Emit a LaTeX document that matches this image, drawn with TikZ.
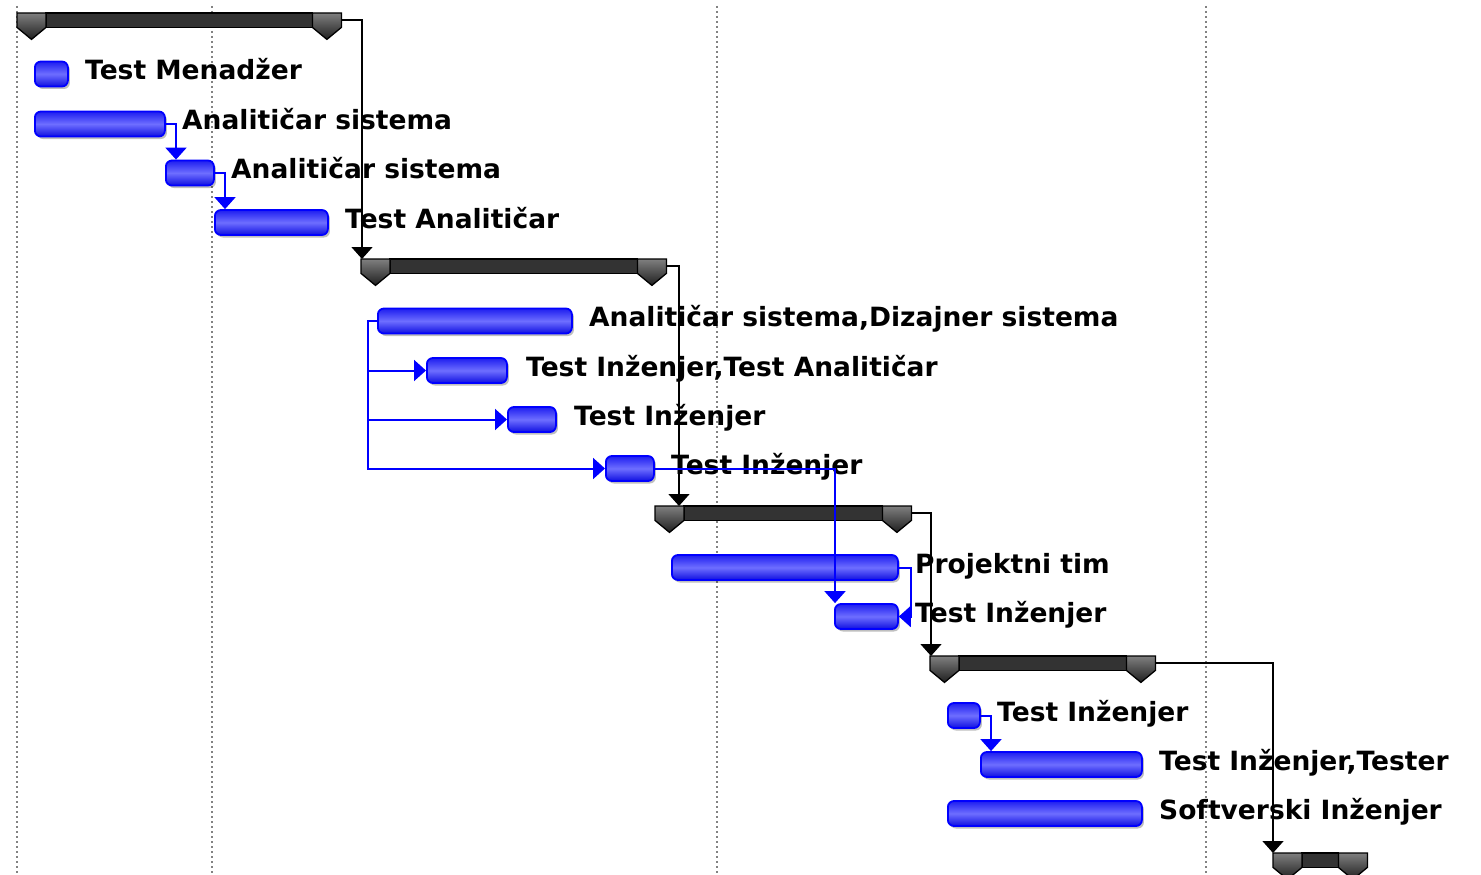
\documentclass[tikz,border=0pt]{standalone}
\usepackage{fontspec}
\setmainfont{DejaVu Sans}
\usetikzlibrary{arrows.meta,shadows,calc}

\definecolor{barline}{RGB}{0,0,255}
\definecolor{bartop}{RGB}{30,30,240}
\definecolor{barmid}{RGB}{110,110,255}
\definecolor{barbot}{RGB}{15,15,225}
\definecolor{gridgray}{RGB}{130,130,130}
\definecolor{linkblue}{RGB}{0,0,255}

\tikzset{
  gridline/.style={draw=gridgray, line width=1.6pt, dash pattern=on 1.8pt off 3.2pt},
  taskbar/.style={draw=barline, line width=1.8pt, rounded corners=6pt,
    top color=bartop, bottom color=barbot, middle color=barmid,
    minimum height=25pt, inner sep=0pt, anchor=west,
    drop shadow={shadow xshift=2pt, shadow yshift=-2.5pt, fill=black, opacity=0.25}},
  sumspan/.style={minimum height=14pt, inner sep=0pt, anchor=north west},
  sumcore/.style={draw=black, line width=1.3pt, fill=black!80},
  sumcap/.style={draw=black, line width=1.3pt, top color=black!50, bottom color=black!88},
  lbl/.style={anchor=base west, inner sep=0pt, font=\bfseries\fontsize{26.5}{30}\selectfont},
  blklink/.style={draw=black, line width=1.6pt, -{Triangle[width=21pt,length=12pt]}},
  bluelink/.style={draw=linkblue, line width=2pt, -{Triangle[width=21pt,length=12pt]}},
}

% dark summary bar with its two pointed end caps
\newcommand\summarybar[1]{%
  \draw[sumcore] ($(#1.north west)+(29,0)$) rectangle ($(#1.south east)+(-29,0)$);
  \draw[sumcap] (#1.north west) -- ($(#1.north west)+(29,0)$) -- ($(#1.south west)+(29,0)$)
    -- ($(#1.south west)+(14.5,12)$) -- (#1.south west) -- cycle;
  \draw[sumcap] (#1.north east) -- ($(#1.north east)+(-29,0)$) -- ($(#1.south east)+(-29,0)$)
    -- ($(#1.south east)+(-14.5,12)$) -- (#1.south east) -- cycle;
}

\begin{document}
\begin{tikzpicture}[x=1pt,y=-1pt]
\useasboundingbox (0,0) rectangle (1481,875);
\fill[white] (0,0) rectangle (1481,875);

% timescale grid
\foreach \gx in {17,212,717,1206}
  \draw[gridline] (\gx,6) -- (\gx,875);

% summary spans
\node[sumspan, minimum width=324pt] (s0)  at (17,13)   {};
\node[sumspan, minimum width=305pt] (s5)  at (361,259) {};
\node[sumspan, minimum width=256pt] (s10) at (655,506) {};
\node[sumspan, minimum width=225pt] (s13) at (930,656) {};
\node[sumspan, minimum width=94pt]  (s17) at (1273,853) {};
\summarybar{s0}
\summarybar{s5}
\summarybar{s10}
\summarybar{s13}
\summarybar{s17}

% task bars
\node[taskbar, minimum width=33pt]  (t1)  at (34,74)    {};
\node[taskbar, minimum width=130pt] (t2)  at (34,124)   {};
\node[taskbar, minimum width=48pt]  (t3)  at (165,173)  {};
\node[taskbar, minimum width=113pt] (t4)  at (214,222.5) {};
\node[taskbar, minimum width=194pt] (t6)  at (377,321)  {};
\node[taskbar, minimum width=80pt]  (t7)  at (426,370.5) {};
\node[taskbar, minimum width=48pt]  (t8)  at (507,419.5) {};
\node[taskbar, minimum width=48pt]  (t9)  at (605,468.5) {};
\node[taskbar, minimum width=226pt] (t11) at (671,567.5) {};
\node[taskbar, minimum width=63pt]  (t12) at (834,616.5) {};
\node[taskbar, minimum width=32pt]  (t14) at (947,715.5) {};
\node[taskbar, minimum width=161pt] (t15) at (980,764.5) {};
\node[taskbar, minimum width=194pt] (t16) at (947,813.5) {};

% resource labels
\node[lbl] (l1)  at (85,80)     {Test Menadžer};
\node[lbl] (l2)  at (182,129.5) {Analitičar sistema};
\node[lbl] (l3)  at (231,178.5) {Analitičar sistema};
\node[lbl] (l4)  at (345,228)   {Test Analitičar};
\node[lbl] (l6)  at (589,326.5) {Analitičar sistema,Dizajner sistema};
\node[lbl] (l7)  at (526,376)   {Test Inženjer,Test Analitičar};
\node[lbl] (l8)  at (574,425)   {Test Inženjer};
\node[lbl] (l9)  at (671,474)   {Test Inženjer};
\node[lbl] (l11) at (915,573)   {Projektni tim};
\node[lbl] (l12) at (915,622)   {Test Inženjer};
\node[lbl] (l14) at (997,721)   {Test Inženjer};
\node[lbl] (l15) at (1159,770)  {Test Inženjer,Tester};
\node[lbl] (l16) at (1159,819)  {Softverski Inženjer};

% links between summary spans
\draw[blklink] (s0.east)  -| ($(s5.north west)+(1,0)$);
\draw[blklink] (s5.east)  -| ($(s10.north west)+(24,0)$);
\draw[blklink] (s10.east) -| ($(s13.north west)+(1,0)$);
\draw[blklink] (s13.east) -| (s17.north west);

% links between tasks
\draw[bluelink] (t2.east) -| ($(t3.north west)+(11,0)$);
\draw[bluelink] (t3.east) -| ($(t4.north west)+(11,0)$);
\coordinate (bus) at (368,321);
\draw[bluelink] (t6.west) -- (bus) |- (t9.west);
\draw[bluelink] (bus) |- (t7.west);
\draw[bluelink] (bus) |- (t8.west);
\draw[bluelink] (t9.east) -| ($(t12.north west)+(1,0)$);
\draw[bluelink] (t11.east) -| ($(t12.east)+(12,0)$) -- (t12.east);
\draw[bluelink] (t14.east) -| ($(t15.north west)+(11,0)$);
\end{tikzpicture}
\end{document}
